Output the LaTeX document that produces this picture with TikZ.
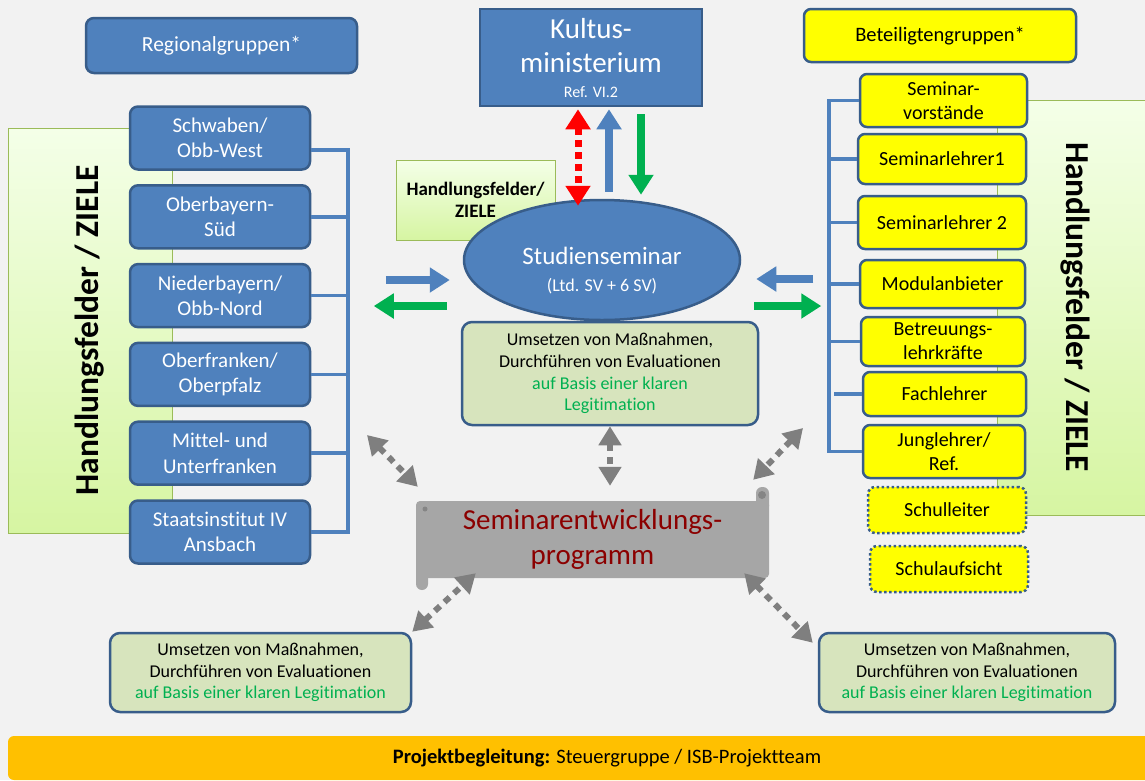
\documentclass[tikz,border=0pt]{standalone}
\usepackage{fontspec}
\setmainfont{Carlito}[Ligatures=NoCommon]
\usetikzlibrary{arrows.meta,positioning,shapes.geometric}
\usepackage{xcolor}
\definecolor{cback}{HTML}{F2F2F2}
\definecolor{cblue}{HTML}{4F81BD}
\definecolor{cborder}{HTML}{385D8A}
\definecolor{cyellow}{HTML}{FFFF00}
\definecolor{cpale}{HTML}{D7E4BD}
\definecolor{cgreen}{HTML}{00B050}
\definecolor{cpanel}{HTML}{9BBB59}
\definecolor{cpaneltop}{HTML}{F4FFE8}
\definecolor{cpanelbot}{HTML}{D6F5A2}
\definecolor{cgray}{HTML}{7F7F7F}
\definecolor{cscroll}{HTML}{A6A6A6}
\definecolor{cdarkred}{HTML}{8B0000}
\definecolor{corange}{HTML}{FFC000}

\begin{document}
\begin{tikzpicture}[x=1pt, y=-1pt, node distance=13.3pt,
    region/.style={draw=cborder, line width=2.5pt, fill=cblue, rounded corners=8pt,
      text=white, align=center, inner sep=2pt,
      minimum width=180pt, minimum height=63pt,
      font=\fontsize{21}{25.5}\selectfont},
    member/.style={draw=cborder, line width=2.5pt, fill=cyellow, rounded corners=7pt,
      align=center, inner sep=1pt, font=\fontsize{20}{24}\selectfont},
    guest/.style={member, dash pattern=on 2.5pt off 2.5pt},
    panel/.style={draw=cpanel, line width=1pt, top color=cpaneltop, bottom color=cpanelbot},
    paneltext/.style={font=\bfseries\fontsize{33.5}{40}\selectfont},
    result/.style={draw=cborder, line width=2.5pt, fill=cpale, rounded corners=10pt,
      align=center, font=\fontsize{18}{21.7}\selectfont},
    bracket/.style={cblue, line width=3.5pt},
    flow/.style={line width=8pt, -{Triangle[length=20pt,width=24pt]}},
    dotlink/.style={red, line width=7pt, dash pattern=on 7pt off 5pt,
      {Triangle[length=20pt,width=24pt]}-{Triangle[length=20pt,width=24pt]}},
    grayarrow/.style={cgray, line width=6pt, dash pattern=on 7pt off 6pt,
      {Triangle[length=19pt,width=22pt]}-{Triangle[length=19pt,width=22pt]}}
  ]
  \useasboundingbox (0,0) rectangle (1145,780);
  \fill[cback] (0,0) rectangle (1145,780);

  % Handlungsfelder panels
  \node[panel, minimum width=164pt, minimum height=405pt] (lp) at (90,330.5) {};
  \node[paneltext, rotate=90] at (lp) {Handlungsfelder / ZIELE};
  \node[panel, minimum width=160pt, minimum height=415pt] (rp) at (1077,307.5) {};
  \node[paneltext, rotate=-90] at (1075,307) {Handlungsfelder / ZIELE};

  % groups
  \node[region, minimum width=271pt, minimum height=55pt,
    font=\fontsize{21.5}{25}\selectfont] (rg) at (221.5,45.5) {Regionalgruppen*};
  \node[member, minimum width=272pt, minimum height=53pt,
    font=\fontsize{20.5}{24}\selectfont] (bg) at (940,35.5) {Beteiligtengruppen*};

  % regions
  \node[region] (r1) at (220,138) {Schwaben/\\Obb-West};
  \node[region, below=of r1] (r2) {Oberbayern-\\Süd};
  \node[region, below=of r2] (r3) {Niederbayern/\\Obb-Nord};
  \node[region, below=of r3] (r4) {Oberfranken/\\Oberpfalz};
  \node[region, below=of r4] (r5) {Mittel- und\\Unterfranken};
  \node[region, below=of r5] (r6) {Staatsinstitut IV\\Ansbach};

  % participants
  \node[member, minimum width=167pt, minimum height=53pt] (y1) at (943.5,100.5) {Seminar-\\vorstände};
  \node[member, minimum width=168pt, minimum height=50pt] (y2) at (942,159) {Seminarlehrer1};
  \node[member, minimum width=168pt, minimum height=53pt] (y3) at (942,222.5) {Seminarlehrer 2};
  \node[member, minimum width=165pt, minimum height=48pt] (y4) at (942.5,284) {Modulanbieter};
  \node[member, minimum width=164pt, minimum height=49pt] (y5) at (943,341.5) {Betreuungs-\\lehrkräfte};
  \node[member, minimum width=163pt, minimum height=44pt] (y6) at (944.5,394) {Fachlehrer};
  \node[member, minimum width=162pt, minimum height=53pt] (y7) at (944,451.5) {Junglehrer/\\Ref.};
  \node[guest, minimum width=158pt, minimum height=46pt] (y8) at (947,510) {Schulleiter};
  \node[guest, minimum width=158pt, minimum height=46pt] (y9) at (949,569) {Schulaufsicht};

  % brackets
  \coordinate (lb) at (348,0);
  \draw[bracket] ([yshift=-12pt]r1.east) -| (r6.east -| lb) -- (r6.east);
  \draw[bracket] (r2.east) -- (r2.east -| lb);
  \draw[bracket] (r3.east) -- (r3.east -| lb);
  \draw[bracket] (r4.east) -- (r4.east -| lb);
  \draw[bracket] (r5.east) -- (r5.east -| lb);
  \coordinate (rb) at (829,0);
  \coordinate (rt) at (834,0);
  \draw[bracket] (y1.west) -| (y7.west -| rb) -- (y7.west);
  \draw[bracket] (y2.west) -- (y2.west -| rb);
  \draw[bracket] (y3.west) -- (y3.west -| rb);
  \draw[bracket] (y4.west) -- (y4.west -| rb);
  \draw[bracket] (y5.west) -- (y5.west -| rb);
  \draw[bracket] (y6.west) -- (y6.west -| rt);

  % centre
  \node[panel, minimum width=159pt, minimum height=80pt, align=center,
    font=\bfseries\fontsize{19}{22}\selectfont] (hz) at (475.5,200) {Handlungsfelder/\\ZIELE};
  \node[draw=cborder, line width=2.5pt, fill=cblue, text=white, align=center,
    minimum width=222pt, minimum height=97pt, inner sep=0pt,
    font=\fontsize{29}{34}\selectfont] (km) at (591,57.5)
    {Kultus-\\ministerium\\[-9pt]{\fontsize{16}{18}\selectfont Ref. VI.2}};
  \node[ellipse, draw=cborder, line width=2.5pt, fill=cblue, text=white, align=center,
    minimum width=276pt, minimum height=120pt, inner sep=0pt,
    font=\fontsize{25}{30}\selectfont] (ss) at (602,260)
    {\rule{0pt}{38pt}Studienseminar\\[-3pt]{\fontsize{18}{20}\selectfont (Ltd. SV + 6 SV)}};

  \draw[dotlink] ([xshift=-13pt,yshift=-2pt]km.south) -- ([xshift=-24pt,yshift=-7pt]ss.north);
  \draw[flow, cblue] ([xshift=7pt,yshift=7pt]ss.north) -- ([xshift=18pt,yshift=-2pt]km.south);
  \draw[flow, cgreen] ([xshift=50pt,yshift=-7pt]km.south) -- ([xshift=39pt,yshift=4pt]ss.north);
  \draw[flow, cblue] ([xshift=-77pt,yshift=-20pt]ss.west) -- ([xshift=-13pt,yshift=-20pt]ss.west);
  \draw[flow, cgreen] ([xshift=-16pt,yshift=-46pt]ss.west) -- ([xshift=-89pt,yshift=-46pt]ss.west);
  \draw[flow, cblue] ([xshift=72pt,yshift=-19pt]ss.east) -- ([xshift=15pt,yshift=-19pt]ss.east);
  \draw[flow, cgreen] ([xshift=13pt,yshift=-46pt]ss.east) -- ([xshift=80pt,yshift=-46pt]ss.east);

  \node[result, minimum width=296pt, minimum height=103pt] (pr) at (610,373.5)
    {Umsetzen von Maßnahmen,\\Durchführen von Evaluationen\\
     \textcolor{cgreen}{auf Basis einer klaren}\\\textcolor{cgreen}{Legitimation}};

  % scroll
  \fill[cscroll, rounded corners=6pt] (756,487) rectangle (769,512);
  \fill[cscroll, rounded corners=6pt] (416,565) rectangle (428,590);
  \node[fill=cscroll, rounded corners=4pt, minimum width=353pt, minimum height=77pt,
    text=cdarkred, align=center, font=\fontsize{29}{35}\selectfont] (sep) at (592.5,539.5)
    {Seminarentwicklungs-\\programm};
  \fill[cscroll!80!black] (762,495) circle (4pt);
  \fill[cscroll!80!black] (425,509) circle (2.5pt);

  \node[result, minimum width=301pt, minimum height=79pt] (bl) at (260.5,672.5)
    {Umsetzen von Maßnahmen,\\Durchführen von Evaluationen\\
     \textcolor{cgreen}{auf Basis einer klaren Legitimation}};
  \node[result, minimum width=296pt, minimum height=79pt] (br) at (967,672.5)
    {Umsetzen von Maßnahmen,\\Durchführen von Evaluationen\\
     \textcolor{cgreen}{auf Basis einer klaren Legitimation}};

  \coordinate (gl) at (367,435);
  \coordinate (gr) at (803,428);
  \draw[grayarrow, shorten >=15pt] (pr.south) -- (pr.south |- sep.north);
  \draw[grayarrow] (gl) -- ([shift={(2pt,14pt)}]sep.north west);
  \draw[grayarrow] (gr) -- ([shift={(-16pt,21pt)}]sep.north east);
  \draw[grayarrow] (bl.north east) -- ([shift={(60pt,5pt)}]sep.south west);
  \draw[grayarrow] ([shift={(-25pt,5pt)}]sep.south east) -- ([shift={(-5pt,-11pt)}]br.north west);

  % project bar
  \node[fill=corange, rounded corners=6pt, minimum width=1198pt, minimum height=44pt,
    font=\fontsize{20.5}{24}\selectfont] (pb) at (607,758) {\textbf{Projektbegleitung:} Steuergruppe / ISB-Projektteam};
\end{tikzpicture}
\end{document}
